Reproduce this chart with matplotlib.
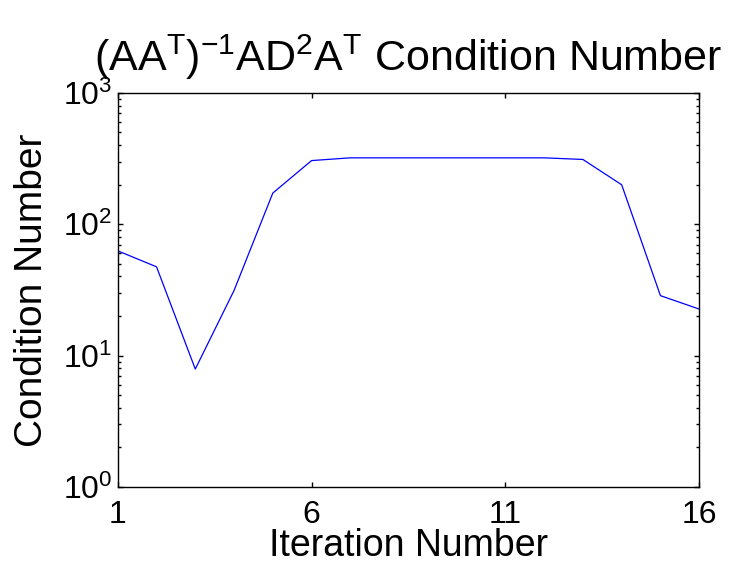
import matplotlib
matplotlib.use("Agg")
import matplotlib.pyplot as plt
from matplotlib.ticker import LogLocator, FixedLocator

plt.rcParams["font.family"] = ["Liberation Sans", "DejaVu Sans"]
plt.rcParams["mathtext.fontset"] = "custom"
plt.rcParams["mathtext.rm"] = "Liberation Sans"
plt.rcParams["mathtext.it"] = "Liberation Sans"
plt.rcParams["mathtext.bf"] = "Liberation Sans:bold"

iterations = list(range(1, 17))
cond_numbers = [62.7, 47.4, 7.9, 31.3, 172.6, 305, 320, 320, 320, 320, 320, 320, 311, 199.6, 28.6, 22.6]
x_ticks = [1, 6, 11, 16]

fig = plt.figure(figsize=(7.36, 5.68), dpi=100)
ax = fig.add_axes([0.160, 0.1426, 0.790, 0.694])

ax.plot(iterations, cond_numbers, color=(0, 0, 1), lw=0.9)

ax.set_yscale("log")
ax.set_ylim(1, 1000)
ax.set_xlim(1, 16)
ax.xaxis.set_major_locator(FixedLocator(x_ticks))
ax.yaxis.set_major_locator(LogLocator(base=10, numticks=10))
ax.yaxis.set_minor_locator(LogLocator(base=10, subs=range(2, 10), numticks=10))

ax.tick_params(which="both", direction="in", top=True, right=True, width=1.0)
ax.tick_params(which="major", length=3.6, labelsize=23)
ax.tick_params(which="minor", length=2.4)
ax.tick_params(axis="x", pad=9)
ax.tick_params(axis="y", pad=4)
for lbl in ax.get_yticklabels():
    lbl.set_verticalalignment("center_baseline")
for sp in ax.spines.values():
    sp.set_linewidth(1.0)

ax.set_xlabel("Iteration Number", fontsize=27, labelpad=-1)
ax.set_ylabel("Condition Number", fontsize=28, labelpad=9)
ax.set_title(r"$\mathrm{(AA^T)^{-1}AD^2A^T}$ Condition Number", fontsize=31, pad=16)

fig.savefig("out.png", dpi=100)
